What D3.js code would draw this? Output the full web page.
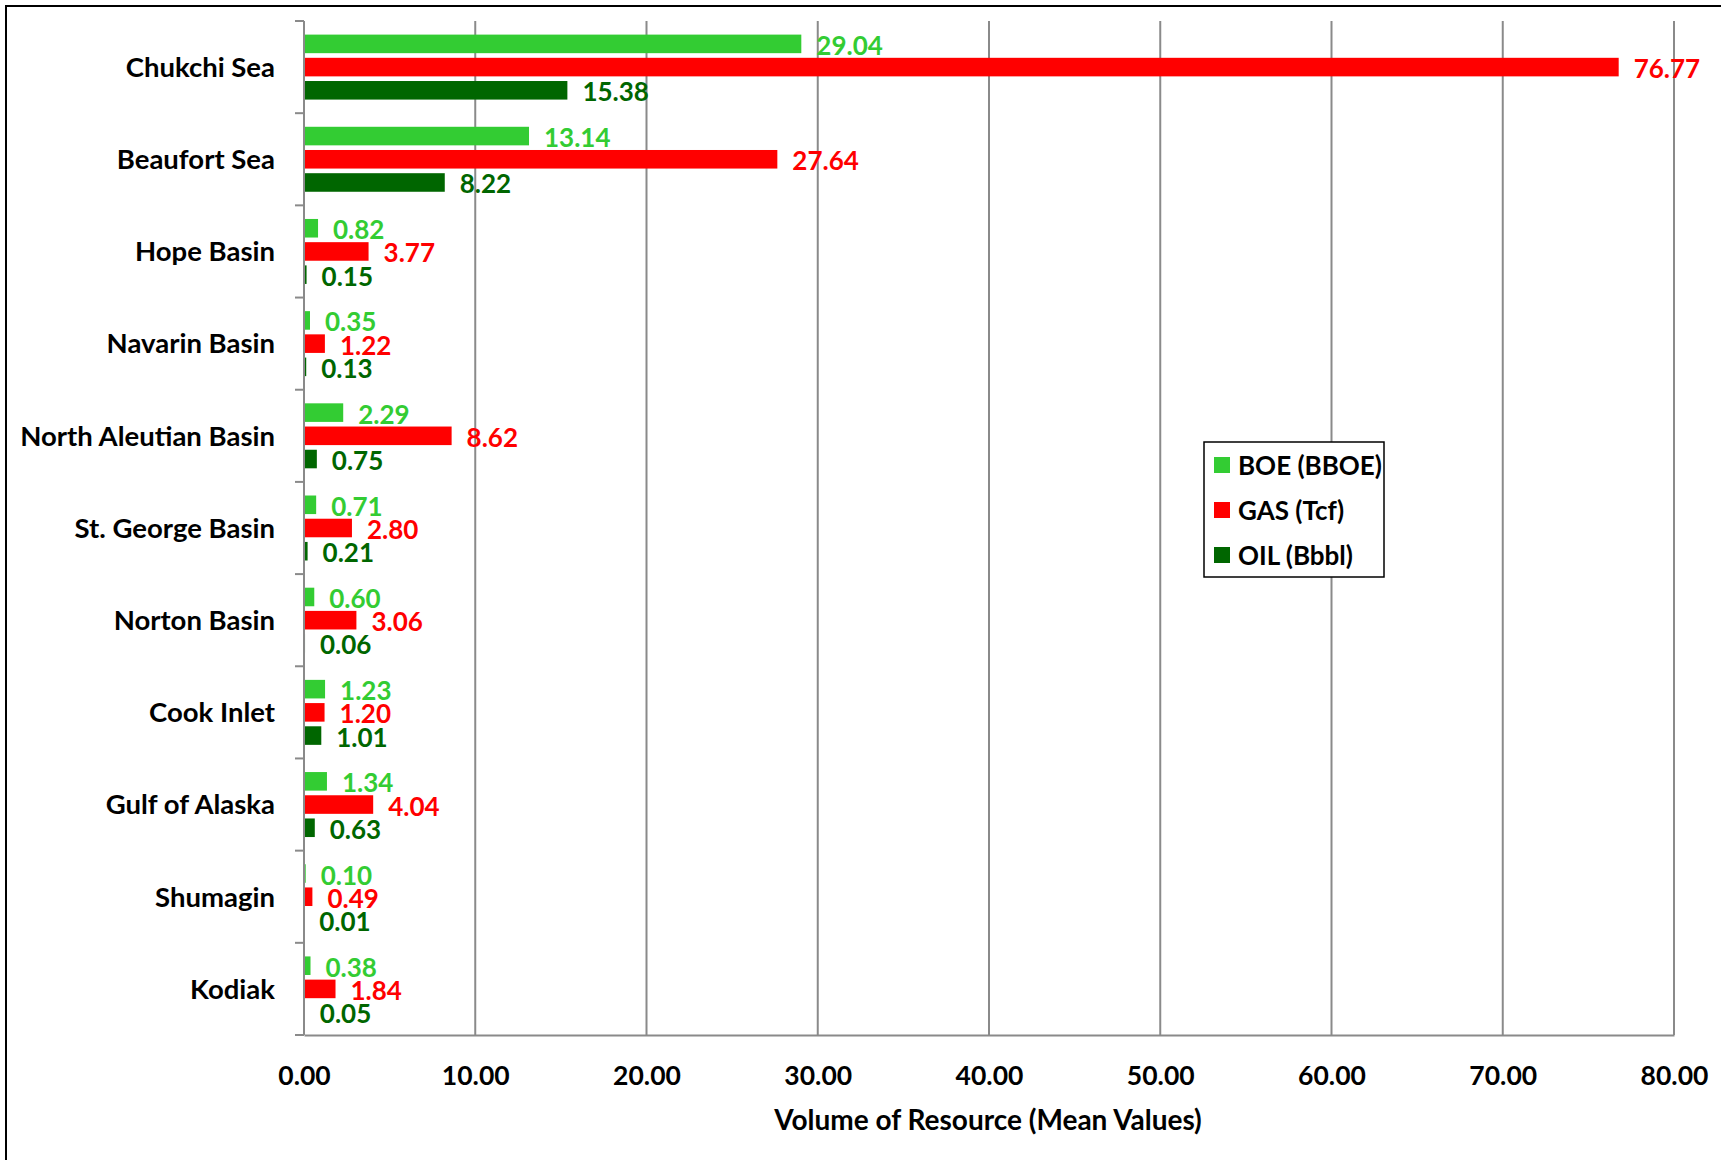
<!DOCTYPE html>
<html>
<head>
<meta charset="utf-8">
<script src="https://cdn.jsdelivr.net/npm/d3@7"></script>
<style>
  html, body { margin: 0; padding: 0; background: #fff; }
  svg { display: block; }
  text { font-family: Lato, "Open Sans", sans-serif; font-weight: 700; }
</style>
</head>
<body>
<svg id="chart" width="1721" height="1160"></svg>
<script>
// Undiscovered technically recoverable resources by planning area (mean values)
const basins = [
  "Chukchi Sea", "Beaufort Sea", "Hope Basin", "Navarin Basin",
  "North Aleutian Basin", "St. George Basin", "Norton Basin",
  "Cook Inlet", "Gulf of Alaska", "Shumagin", "Kodiak"
];
const boeValues = [29.04, 13.14, 0.82, 0.35, 2.29, 0.71, 0.60, 1.23, 1.34, 0.10, 0.38];
const gasValues = [76.77, 27.64, 3.77, 1.22, 8.62, 2.80, 3.06, 1.20, 4.04, 0.49, 1.84];
const oilValues = [15.38, 8.22, 0.15, 0.13, 0.75, 0.21, 0.06, 1.01, 0.63, 0.01, 0.05];
const seriesNames = ["BOE (BBOE)", "GAS (Tcf)", "OIL (Bbbl)"];
const seriesColors = ["#33cc33", "#ff0000", "#006600"];
const xTicks = [0, 10, 20, 30, 40, 50, 60, 70, 80];
const axisTitle = "Volume of Resource (Mean Values)";

const seriesValues = [boeValues, gasValues, oilValues];
const rows = basins.map((name, i) => ({
  name,
  values: seriesNames.map((s, j) => ({ series: s, value: seriesValues[j][i], color: seriesColors[j] }))
}));

const svg = d3.select("#chart");
const plot = { left: 304, right: 1674, top: 21, bottom: 1035 };

// Outer frame
svg.append("rect")
  .attr("x", 6).attr("y", 6).attr("width", 1800).attr("height", 1300)
  .attr("fill", "none").attr("stroke", "#000").attr("stroke-width", 2);

const x = d3.scaleLinear().domain([0, 80]).range([plot.left, plot.right]);
const y = d3.scaleBand().domain(basins).range([plot.top, plot.bottom]).padding(0);
const inner = d3.scaleBand().domain(seriesNames)
  .range([13.6, y.bandwidth() - 13.6]).paddingInner(0.2).paddingOuter(0);

const grid = "#8a8a8a";

// Vertical gridlines
svg.append("g").selectAll("line").data(xTicks.filter(t => t > 0)).join("line")
  .attr("x1", d => x(d)).attr("x2", d => x(d))
  .attr("y1", plot.top).attr("y2", plot.bottom)
  .attr("stroke", grid).attr("stroke-width", 2);

// Bars
const groups = svg.append("g").selectAll("g").data(rows).join("g")
  .attr("transform", d => `translate(0,${y(d.name)})`);

groups.selectAll("rect").data(d => d.values).join("rect")
  .attr("x", x(0))
  .attr("y", d => inner(d.series))
  .attr("width", d => x(d.value) - x(0))
  .attr("height", inner.bandwidth())
  .attr("fill", d => d.color);

// Value labels
groups.selectAll("text").data(d => d.values).join("text")
  .attr("x", d => x(d.value) + 15)
  .attr("y", d => inner(d.series) + inner.bandwidth() / 2 + 1)
  .attr("dominant-baseline", "central")
  .attr("font-size", 26)
  .attr("fill", d => d.color)
  .text(d => d.value.toFixed(2));

// Category axis (left)
const yAxis = d3.axisLeft(y).tickSize(0).tickPadding(29);
const yg = svg.append("g").attr("transform", `translate(${plot.left},1)`).call(yAxis);
yg.select(".domain").remove();
yg.selectAll("text").attr("font-size", 27.5).attr("fill", "#000")
  .attr("font-family", "Lato, sans-serif").attr("font-weight", 700);

// Category boundary ticks and axis line
const bounds = basins.map(b => y(b)).concat([plot.bottom]);
svg.append("g").selectAll("line").data(bounds).join("line")
  .attr("x1", plot.left - 9).attr("x2", plot.left)
  .attr("y1", d => d).attr("y2", d => d)
  .attr("stroke", grid).attr("stroke-width", 2);
svg.append("line")
  .attr("x1", plot.left).attr("x2", plot.left)
  .attr("y1", plot.top).attr("y2", plot.bottom)
  .attr("stroke", grid).attr("stroke-width", 2);

// Value axis (bottom)
const xAxis = d3.axisBottom(x).tickValues(xTicks).tickSize(0).tickPadding(31)
  .tickFormat(d3.format(".2f"));
const xg = svg.append("g").attr("transform", `translate(0,${plot.bottom})`).call(xAxis);
xg.select(".domain").attr("stroke", grid).attr("stroke-width", 2);
xg.selectAll("text").attr("font-size", 26.5).attr("fill", "#000")
  .attr("font-family", "Lato, sans-serif").attr("font-weight", 700);

svg.append("text")
  .attr("x", (plot.left + plot.right) / 2 - 1).attr("y", 1119)
  .attr("text-anchor", "middle").attr("dominant-baseline", "central")
  .attr("font-size", 28).attr("fill", "#000")
  .text(axisTitle);

// Legend
const legend = svg.append("g").attr("transform", "translate(1204,442)");
legend.append("rect").attr("width", 180).attr("height", 135)
  .attr("fill", "#fff").attr("stroke", "#000").attr("stroke-width", 1.5);
const items = legend.selectAll("g").data(seriesNames).join("g")
  .attr("transform", (d, i) => `translate(10,${23 + i * 45})`);
items.append("rect").attr("x", 0).attr("y", -8).attr("width", 16).attr("height", 16)
  .attr("fill", (d, i) => seriesColors[i]);
items.append("text").attr("x", 24).attr("y", 0)
  .attr("dominant-baseline", "central").attr("font-size", 26).attr("fill", "#000")
  .text(d => d);
</script>
</body>
</html>
